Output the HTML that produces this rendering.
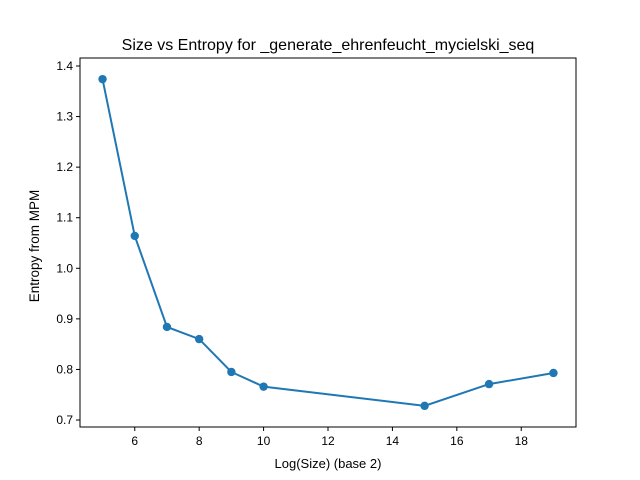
<!DOCTYPE html>
<html><head><meta charset="utf-8"><style>
body{margin:0;background:#fff;}
svg{display:block;font-family:"Liberation Sans","DejaVu Sans",sans-serif;}
</style></head><body>
<svg id="chart" width="640" height="480">
<rect width="640" height="480" fill="#fff"/>
<text x="328" y="50" text-anchor="middle" font-size="16">Size vs Entropy for _generate_ehrenfeucht_mycielski_seq</text>
<text x="328" y="468" text-anchor="middle" font-size="13">Log(Size) (base 2)</text>
<text transform="translate(39,246) rotate(-90)" text-anchor="middle" font-size="13.5">Entropy from MPM</text>
<g id="ticks"></g>
<g id="series"></g>
<rect x="80" y="58" width="496" height="369" fill="none" stroke="#000" stroke-width="1"/>
</svg>
<script>
const sizes=[5,6,7,8,9,10,15,17,19];
const entropy=[1.374,1.064,0.884,0.860,0.795,0.766,0.728,0.771,0.793];
const xTicks=[6,8,10,12,14,16,18];
const yTicks=[0.7,0.8,0.9,1.0,1.1,1.2,1.3,1.4];
const yTickLabels=["0.7","0.8","0.9","1.0","1.1","1.2","1.3","1.4"];
const L=80,R=576,T=58,B=427;
const xMin=4.3,xMax=19.7,yMin=0.6862,yMax=1.4158;
const sx=v=>L+(v-xMin)/(xMax-xMin)*(R-L);
const sy=v=>B-(v-yMin)/(yMax-yMin)*(B-T);
const NS="http://www.w3.org/2000/svg";
const tg=document.getElementById('ticks'),sg=document.getElementById('series');
function mk(t,a,p){const e=document.createElementNS(NS,t);for(const k in a)e.setAttribute(k,a[k]);p.appendChild(e);return e;}
xTicks.forEach(v=>{
 const x=sx(v);
 const l=mk('line',{x1:x,x2:x,y1:B,y2:B+4,stroke:'#000'},tg);
 
 
 const t=mk('text',{x:x,y:B+18,'text-anchor':'middle','font-size':12},tg);t.textContent=v;
 
 
});
yTicks.forEach((v,i)=>{
 const y=sy(v);
 const l=mk('line',{x1:L-4,x2:L,y1:y,y2:y,stroke:'#000'},tg);
 
 
 const t=mk('text',{x:L-7,y:y+4,'text-anchor':'end','font-size':12},tg);t.textContent=yTickLabels[i];
 
 
});
const pts=sizes.map((s,i)=>sx(s)+','+sy(entropy[i])).join(' ');
const pl=mk('polyline',{points:pts,fill:'none',stroke:'#1f77b4','stroke-width':2},sg);


sizes.forEach((s,i)=>{
 const c=mk('circle',{cx:sx(s),cy:sy(entropy[i]),r:4.2,fill:'#1f77b4'},sg);
 
 
});
</script>
</body></html>
